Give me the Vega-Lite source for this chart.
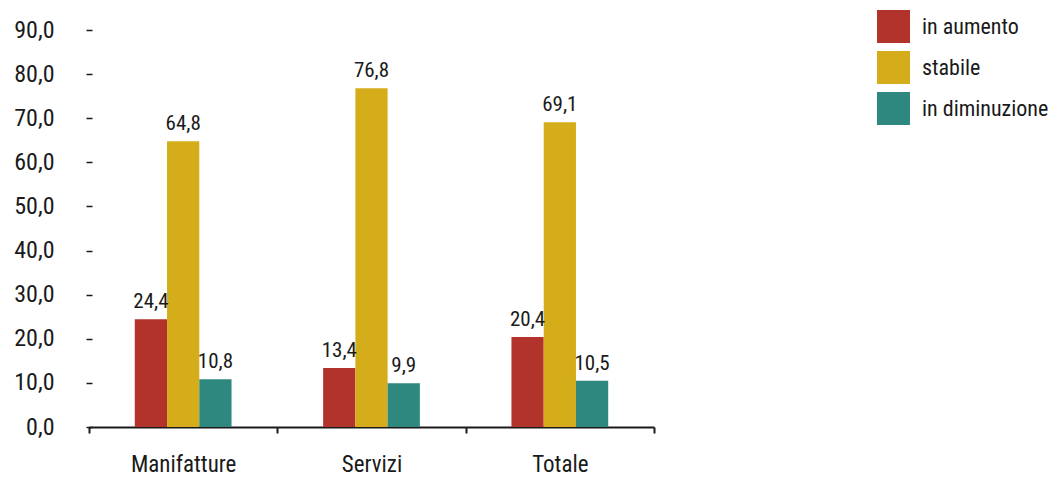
{
  "$schema": "https://vega.github.io/schema/vega-lite/v6.json",
  "width": 565,
  "height": 397,
  "autosize": {"type": "none"},
  "padding": {"left": 89, "top": 30, "right": 399, "bottom": 52},
  "config": {
    "locale": {"number": {"decimal": ",", "thousands": ".", "grouping": [3], "currency": ["€", ""]}},
    "font": "Roboto Condensed, sans-serif",
    "view": {"stroke": null}
  },
  "data": {
    "values": [
      {"settore": "Manifatture", "serie": "in aumento", "valore": 24.4},
      {"settore": "Manifatture", "serie": "stabile", "valore": 64.8},
      {"settore": "Manifatture", "serie": "in diminuzione", "valore": 10.8},
      {"settore": "Servizi", "serie": "in aumento", "valore": 13.4},
      {"settore": "Servizi", "serie": "stabile", "valore": 76.8},
      {"settore": "Servizi", "serie": "in diminuzione", "valore": 9.9},
      {"settore": "Totale", "serie": "in aumento", "valore": 20.4},
      {"settore": "Totale", "serie": "stabile", "valore": 69.1},
      {"settore": "Totale", "serie": "in diminuzione", "valore": 10.5}
    ]
  },
  "encoding": {
    "x": {
      "field": "settore", "type": "nominal", "sort": null,
      "scale": {"paddingInner": 0, "paddingOuter": 0},
      "axis": {
        "title": null, "labelAngle": 0, "labelFontSize": 23, "labelColor": "#1a1a1a",
        "labelPadding": 20, "domainColor": "#1a1a1a", "domainWidth": 2,
        "tickColor": "#1a1a1a", "tickWidth": 2, "tickSize": 6, "tickBand": "extent"
      }
    },
    "xOffset": {
      "field": "serie", "type": "nominal",
      "scale": {"domain": ["_a", "in aumento", "stabile", "in diminuzione", "_b"], "paddingInner": 0, "paddingOuter": 0.42}
    },
    "y": {
      "field": "valore", "type": "quantitative",
      "scale": {"domain": [0, 90], "nice": false},
      "axis": {
        "title": null, "values": [0, 10, 20, 30, 40, 50, 60, 70, 80, 90], "format": ".1f",
        "grid": false, "domain": false, "tickColor": "#1a1a1a", "tickSize": 6, "tickWidth": 1.5,
        "offset": -3, "labelPadding": 32, "labelFontSize": 24, "labelColor": "#1a1a1a"
      }
    }
  },
  "layer": [
    {
      "mark": {"type": "bar"},
      "encoding": {
        "color": {
          "field": "serie", "type": "nominal",
          "scale": {"domain": ["in aumento", "stabile", "in diminuzione"], "range": ["#B2332C", "#D5AD1B", "#2E887F"]},
          "legend": {
            "title": null, "orient": "none", "legendX": 788, "legendY": -20,
            "symbolType": "square", "symbolSize": 1089, "symbolStrokeWidth": 0, "symbolOpacity": 1,
            "labelFontSize": 22, "labelColor": "#1a1a1a", "labelOffset": 12, "rowPadding": 8, "labelLimit": 200
          }
        }
      }
    },
    {
      "mark": {"type": "text", "baseline": "bottom", "dy": -7, "fontSize": 21, "color": "#1a1a1a"},
      "encoding": {"text": {"field": "valore", "type": "quantitative", "format": ".1f"}}
    }
  ]
}
